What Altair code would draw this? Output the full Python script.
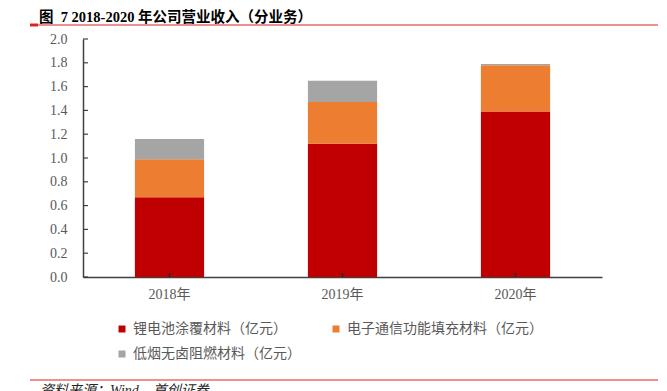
import altair as alt
import pandas as pd

years = ["2018年", "2019年", "2020年"]
series = ["锂电池涂覆材料（亿元）", "电子通信功能填充材料（亿元）", "低烟无卤阻燃材料（亿元）"]
colors = ["#C00000", "#ED7D31", "#A5A5A5"]
li_battery = [0.67, 1.12, 1.39]
electronic = [0.32, 0.35, 0.39]
flame = [0.17, 0.18, 0.01]
y_ticks = [0.0, 0.2, 0.4, 0.6, 0.8, 1.0, 1.2, 1.4, 1.6, 1.8, 2.0]
title_text = "图\u00a0\u00a07 2018-2020 年公司营业收入（分业务）"
source_text = "资料来源：Wind，首创证券"

rows = []
for i, y in enumerate(years):
    for k, (s, vals) in enumerate(zip(series, [li_battery, electronic, flame])):
        rows.append({"year": y, "series": s, "value": vals[i], "order": k})
df = pd.DataFrame(rows)

FONT = "Liberation Serif, Noto Sans CJK SC"
LABEL_COLOR = "#595959"
W, H = 519, 238

# legend is laid out column by column: put the third series in the first column's second row
legend_domain = [series[0], series[2], series[1]]
legend_range = [colors[0], colors[2], colors[1]]

yscale = alt.Scale(domain=[0, 2])
xscale = alt.Scale(domain=years, paddingInner=0.6, paddingOuter=0.3)

xaxis = alt.Axis(title=None, labelAngle=0, ticks=False, labelPadding=10,
                 labelFont=FONT, labelFontSize=14, labelColor=LABEL_COLOR,
                 domainColor="#404040", domainWidth=1.5)
yaxis = alt.Axis(title=None, values=y_ticks, format=".1f", grid=False, ticks=False,
                 labelPadding=16, labelFont=FONT, labelFontSize=14,
                 labelColor=LABEL_COLOR, domainColor="#404040", domainWidth=1.5)

bars = alt.Chart(df).mark_bar().encode(
    x=alt.X("year:N", scale=xscale, sort=years, axis=xaxis),
    y=alt.Y("value:Q", stack="zero", scale=yscale, axis=yaxis),
    color=alt.Color("series:N", scale=alt.Scale(domain=legend_domain, range=legend_range),
                    legend=alt.Legend(title=None, orient="none", legendX=32, legendY=283,
                                      columns=2, columnPadding=28, rowPadding=11,
                                      symbolType="square", symbolSize=49, symbolStrokeWidth=0,
                                      labelOffset=4, labelFont=FONT, labelFontSize=14,
                                      labelColor=LABEL_COLOR, padding=0, labelLimit=400)),
    order=alt.Order("order:Q", sort="ascending"),
)

tick_df = pd.DataFrame({"value": y_ticks})
ytick_marks = alt.Chart(tick_df).mark_rule(color="#404040", strokeWidth=1.2).encode(
    y=alt.Y("value:Q", scale=yscale, axis=yaxis),
    x=alt.value(0), x2=alt.value(5),
)

xtick_df = pd.DataFrame({"year": years})
xtick_marks = alt.Chart(xtick_df).mark_rule(color="#262626", strokeWidth=1.5).encode(
    x=alt.X("year:N", scale=xscale, sort=years, axis=xaxis),
    y=alt.value(H), y2=alt.value(H - 4),
)

one = pd.DataFrame({"t": [title_text]})
title = alt.Chart(one).mark_text(align="left", baseline="alphabetic", font=FONT, fontSize=14.5,
                                 fontWeight="bold", color="#000000").encode(
    text="t:N", x=alt.value(-44), y=alt.value(-17.5))

src = pd.DataFrame({"t": [source_text]})
footer = alt.Chart(src).mark_text(align="left", baseline="top", font=FONT, fontSize=14,
                                  fontStyle="italic", color="#262626").encode(
    text="t:N", x=alt.value(-43), y=alt.value(345))

top_line = alt.Chart(one).mark_rule(color="#E02020", strokeWidth=1.2).encode(
    x=alt.value(-53), x2=alt.value(575), y=alt.value(-14))
top_accent = alt.Chart(one).mark_rule(color="#E02020", strokeWidth=3).encode(
    x=alt.value(-53), x2=alt.value(-45), y=alt.value(-14))
bottom_line = alt.Chart(one).mark_rule(color="#E02020", strokeWidth=1.2).encode(
    x=alt.value(-53), x2=alt.value(575), y=alt.value(341))

chart = alt.layer(bars, ytick_marks, xtick_marks, title, footer, top_line, top_accent,
                  bottom_line).properties(
    width=W, height=H,
    autosize=alt.AutoSizeParams(type="none"),
    padding={"left": 75, "top": 31, "right": 56, "bottom": 114},
).configure_view(stroke=None).resolve_scale(x="shared", y="shared")

chart.save("out.html", embed_options={"renderer": "svg", "actions": False})
